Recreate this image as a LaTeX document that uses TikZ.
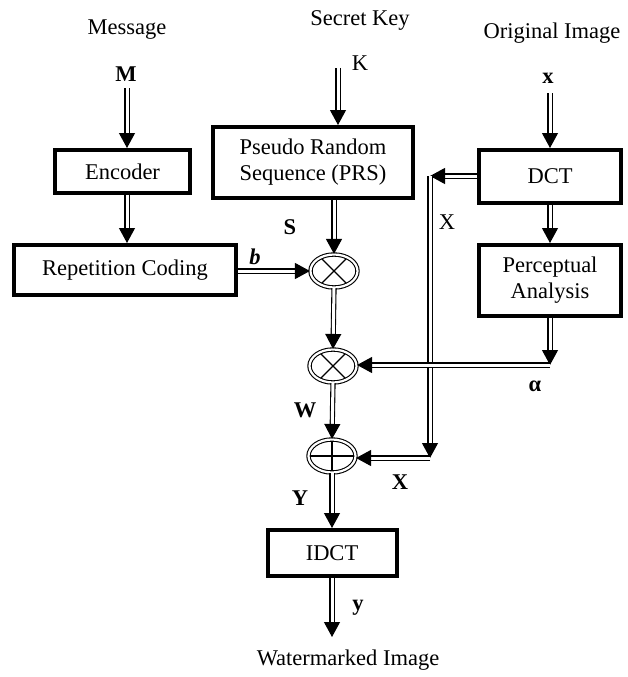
\documentclass[tikz,border=0pt]{standalone}
\usepackage{fontspec}
\setmainfont{Liberation Serif}
\usetikzlibrary{arrows.meta,shapes.geometric}
\begin{document}
\begin{tikzpicture}[x=1pt,y=-1pt,
  box/.style={draw, line width=4pt, inner sep=0pt, align=center, font=\fontsize{22.5}{26}\selectfont},
  lab/.style={inner sep=0pt, font=\fontsize{22.5}{24}\selectfont},
  blab/.style={inner sep=0pt, font=\fontsize{22.5}{24}\selectfont\bfseries},
  dar/.style={double, double distance=3pt, line width=1.1pt, -{Triangle[length=15pt,width=16pt]}},
  opnode/.style={ellipse, draw, double, double distance=2.2pt, line width=1.1pt, minimum width=47pt, minimum height=33pt, inner sep=0pt},
  mulop/.style={opnode, path picture={\draw[line width=1.1pt] (path picture bounding box.center) ++(-20,-20) -- ++(40,40);
      \draw[line width=1.1pt] (path picture bounding box.center) ++(-20,20) -- ++(40,-40);}},
  addop/.style={opnode, path picture={\draw[line width=1.1pt] (path picture bounding box.center) ++(-30,0) -- ++(60,0);
      \draw[line width=1.1pt] (path picture bounding box.center) ++(0,-30) -- ++(0,60);}}
]
\useasboundingbox (0,0) rectangle (628,677);
% texts
\node[lab] (tmsg) at (127,30) {Message};
\node[lab] (tkey) at (360,20) {Secret Key};
\node[lab] (timg) at (552,33) {Original Image};
\node[blab] (mlab) at (126,74) {M};
\node[lab] (klab) at (360,63) {K};
\node[blab] (xlab) at (548,78) {x};
\node[blab] (slab) at (290,227) {S};
\node[lab, font=\fontsize{22.5}{24}\selectfont\bfseries\itshape] (blab) at (255,257) {b};
\node[lab] (xa) at (447,222) {X};
\node[blab] (alab) at (535,386) {α};
\node[blab] (wlab) at (305,410) {W};
\node[blab] (xb) at (400,482) {X};
\node[blab] (ylab) at (300,498) {Y};
\node[blab] (yout) at (358,608) {y};
\node[lab] (twm) at (348,660) {Watermarked Image};
% boxes
\node[box, minimum width=135pt, minimum height=43pt] (enc) at (122.5,171.5) {Encoder};
\node[box, minimum width=222pt, minimum height=50pt] (rep) at (125,270) {Repetition Coding};
\node[box, minimum width=200pt, minimum height=71pt] (prs) at (313,162.5) {Pseudo Random\\Sequence (PRS)};
\node[box, minimum width=142pt, minimum height=53pt] (dct) at (550,176.5) {DCT};
\node[box, minimum width=142pt, minimum height=71pt] (pa) at (550,280.5) {Perceptual\\Analysis};
\node[box, minimum width=129pt, minimum height=46pt] (idct) at (332,553) {IDCT};
% operators
\node[mulop] (m1) at (334,271) {};
\node[mulop] (m2) at (333,366) {};
\node[addop] (add) at (332,456) {};
% helper coordinates
\coordinate (min) at (127,88);
\coordinate (kin) at (338,68);
\coordinate (xin) at (550,93);
\coordinate (c1) at (430,176);
\coordinate (c2) at (430,458);
\coordinate (c3) at (550,365);
\coordinate (out) at (332,637);
% connectors
\draw[dar] (min) -- (min |- enc.north);
\draw[dar] (min |- enc.south) -- (min |- rep.north);
\draw[dar] (kin) -- (kin |- prs.north);
\draw[dar] (m1 |- prs.south) -- (m1.north);
\draw[dar] (rep.east |- m1) -- (m1.west);
\draw[dar] (xin) -- (xin |- dct.north);
\draw[dar] (dct.south) -- (pa.north);
\draw[dar] (dct.west |- c1) -- (c1);
\draw[dar] (c1) -- (c2);
\draw[dar] (c2) -- (c2 -| add.east);
\draw[dar] (pa.south) -- (c3);
\draw[dar] (c3) -- (c3 -| m2.east);
\draw[dar] (m1.south) -- (m2.north);
\draw[dar] (m2.south) -- (add.north);
\draw[dar] (add.south) -- (add.south |- idct.north);
\draw[dar] (idct.south) -- (out);
\end{tikzpicture}
\end{document}
